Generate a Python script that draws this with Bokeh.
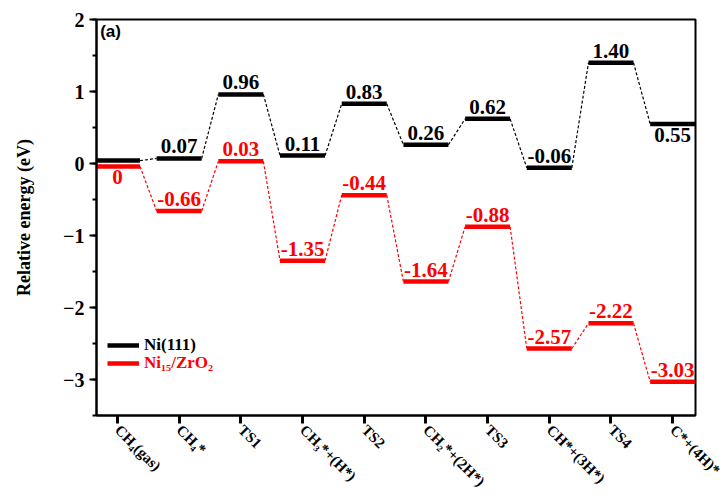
import math
from bokeh.plotting import figure
from bokeh.models import (Range1d, FixedTicker, SingleIntervalTicker, Legend,
                          LegendItem, ColumnDataSource, Label)
from bokeh.core.properties import value
from bokeh.embed import file_html
from bokeh.resources import INLINE

# ---------------- data ----------------
states = ["CH\u2084(gas)", "CH\u2084*", "TS1", "CH\u2083*+(H*)", "TS2",
          "CH\u2082*+(2H*)", "TS3", "CH*+(3H*)", "TS4", "C*+(4H)*"]
ni111 = [0.0, 0.07, 0.96, 0.11, 0.83, 0.26, 0.62, -0.06, 1.40, 0.55]
ni15zro2 = [0.0, -0.66, 0.03, -1.35, -0.44, -1.64, -0.88, -2.57, -2.22, -3.03]
ni111_side = ["none", "above", "above", "above", "above", "above", "above", "above", "above", "below"]
ni15_side = ["below", "above", "above", "above", "above", "above", "above", "above", "above", "above"]
series_names = ["Ni(111)", "Ni\u2081\u2085/ZrO\u2082"]

BLACK = "#000000"
RED = "#ff0000"
SERIF = "Liberation Serif"
BAR_W = 0.73
SEP = 0.04  # visual separation when both levels coincide

p = figure(width=725, height=501, output_backend="svg", toolbar_location=None,
           x_range=Range1d(-0.34, 9.37), y_range=Range1d(-3.5, 2.0),
           min_border_left=96, min_border_right=30, min_border_top=19,
           min_border_bottom=86)
p.xgrid.grid_line_color = None
p.ygrid.grid_line_color = None
p.outline_line_color = BLACK
p.outline_line_width = 2
p.background_fill_color = "white"
p.border_fill_color = "white"


def fmt(v):
    return "0" if v == 0 else f"{v:.2f}"


def draw(vals, other, sign, color, sides):
    n = len(vals)
    disp = [v + sign * SEP if v == o else v for v, o in zip(vals, other)]
    xs = list(range(n))
    bars = ColumnDataSource(dict(x0=[x - BAR_W / 2 for x in xs],
                                 x1=[x + BAR_W / 2 for x in xs],
                                 y=disp))
    r = p.segment(x0="x0", y0="y", x1="x1", y1="y", source=bars,
                  line_color=color, line_width=4.5, line_cap="butt")
    conn = ColumnDataSource(dict(x0=[x + BAR_W / 2 for x in xs[:-1]],
                                 y0=disp[:-1],
                                 x1=[x + 1 - BAR_W / 2 for x in xs[:-1]],
                                 y1=disp[1:]))
    p.segment(x0="x0", y0="y0", x1="x1", y1="y1", source=conn,
              line_color=color, line_width=1.2, line_dash="3 2")
    for side in ("above", "below"):
        idx = [i for i in range(n) if sides[i] == side]
        src = ColumnDataSource(dict(x=[xs[i] for i in idx],
                                    y=[disp[i] for i in idx],
                                    t=[fmt(vals[i]) for i in idx]))
        p.text(x="x", y="y", text="t", source=src,
               text_font=value(SERIF), text_font_style="bold",
               text_font_size="21px", text_color=color, text_align="center",
               text_baseline="bottom" if side == "above" else "top",
               y_offset=-5 if side == "above" else 4)
    return r


r_black = draw(ni111, ni15zro2, +1, BLACK, ni111_side)
r_red = draw(ni15zro2, ni111, -1, RED, ni15_side)

# axes
p.xaxis.ticker = FixedTicker(ticks=list(range(len(states))))
p.xaxis.major_label_overrides = {i: s for i, s in enumerate(states)}
p.xaxis.major_label_orientation = -math.pi / 4
p.yaxis.ticker = SingleIntervalTicker(interval=1, num_minor_ticks=2)
for ax in (p.xaxis, p.yaxis):
    ax.axis_line_width = 2
    ax.axis_line_color = BLACK
    ax.major_tick_in = 0
    ax.minor_tick_in = 0
    ax.major_label_text_font = SERIF
    ax.major_label_text_font_style = "bold"
    ax.major_label_text_color = BLACK
p.xaxis.minor_tick_line_color = None
p.xaxis.major_tick_out = 8
p.xaxis.major_tick_line_width = 3
p.xaxis.major_label_text_font_size = "15px"
p.xaxis.major_label_standoff = 4
p.yaxis.major_tick_out = 7
p.yaxis.minor_tick_out = 4
p.yaxis.major_tick_line_width = 2
p.yaxis.minor_tick_line_width = 2
p.yaxis.major_label_text_font_size = "20px"
p.yaxis.axis_label = "Relative energy (eV)"
p.yaxis.axis_label_text_font = SERIF
p.yaxis.axis_label_text_font_style = "bold"
p.yaxis.axis_label_text_font_size = "18px"
p.yaxis.axis_label_text_color = BLACK
p.yaxis.axis_label_standoff = 26

# panel tag
p.add_layout(Label(x=-0.28, y=1.96, text="(a)", text_font="Liberation Sans",
                   text_font_style="bold", text_font_size="17px",
                   text_baseline="top", text_color=BLACK))

# legends (one per series to get coloured label text)
for rend, name, color, loc in ((r_black, series_names[0], BLACK, (11, 60)),
                               (r_red, series_names[1], RED, (11, 42))):
    lg = Legend(items=[LegendItem(label=name, renderers=[rend])],
                location=loc, background_fill_alpha=0, border_line_color=None,
                padding=0, margin=0, spacing=0, glyph_width=32, glyph_height=20,
                label_standoff=5, label_text_font=SERIF,
                label_text_font_style="bold", label_text_font_size="17px",
                label_text_color=color)
    p.add_layout(lg)

open("out.html", "w").write(file_html(p, INLINE))
